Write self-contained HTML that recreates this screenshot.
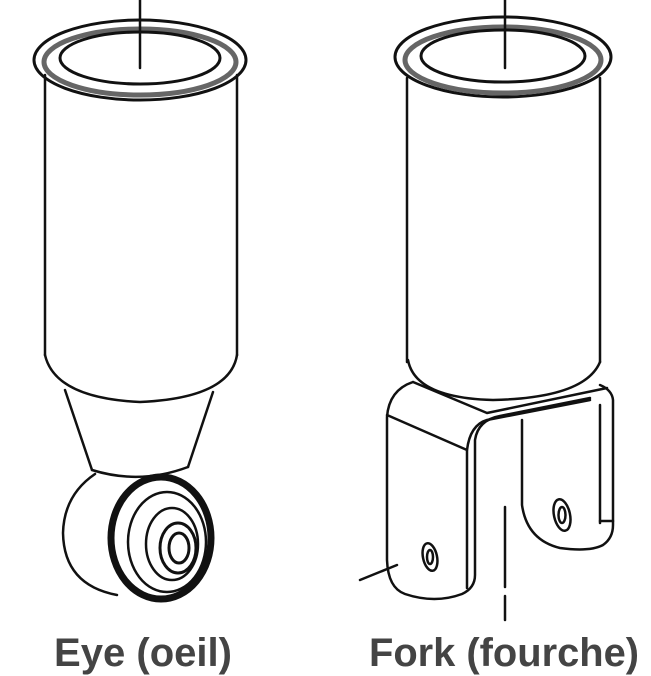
<!DOCTYPE html>
<html><head><meta charset="utf-8"><style>
html,body{margin:0;padding:0;background:#fff;}
svg{display:block;}
text{font-family:"Liberation Sans",Arial,sans-serif;font-weight:bold;fill:#444;}
</style></head><body>
<svg width="651" height="676" viewBox="0 0 651 676" xmlns="http://www.w3.org/2000/svg">
<g fill="none" stroke="#111" stroke-width="2.5" stroke-linejoin="round" stroke-linecap="round">
<!-- LEFT: Eye -->
<line x1="45" y1="75" x2="45" y2="355"/>
<line x1="237" y1="75" x2="237" y2="355"/>
<path d="M45 355 Q55 398 140 402 Q230 398 237 355"/>
<path d="M65 390 L92 470"/>
<path d="M213 392 L188 467"/>
<path d="M92 470 Q140 485 188 467"/>
<path d="M95 474 Q64 495 63 533 Q64 585 117 595"/>
<ellipse cx="161" cy="538" rx="50" ry="61" stroke-width="7"/>
<ellipse cx="167" cy="542" rx="39" ry="50" stroke-width="2.5"/>
<ellipse cx="172" cy="544" rx="26" ry="36"/>
<ellipse cx="178" cy="548" rx="18" ry="25" stroke-width="3"/>
<ellipse cx="179" cy="548" rx="10" ry="15" stroke-width="3"/>
<ellipse cx="140" cy="60" rx="106" ry="40" stroke-width="3"/>
<ellipse cx="140" cy="62" rx="96" ry="33" stroke="#666" stroke-width="5"/>
<ellipse cx="140" cy="58" rx="80" ry="26" stroke-width="3"/>
<line x1="140" y1="0" x2="140" y2="68"/>
<!-- RIGHT: Fork -->
<line x1="407" y1="78" x2="407" y2="362"/>
<line x1="600" y1="78" x2="600" y2="362"/>
<path d="M408 360 Q415 398 493 400 Q585 398 600 362"/>
<path d="M413 382 Q389 390 387 417 L387 560 Q388 588 405 594 Q435 604 462 594 Q475 588 475 575 L475 440 Q478 420 500 416 L590 398"/>
<path d="M387 415 L467 450 L467 588"/>
<path d="M413 382 L487 413 L607 388"/>
<path d="M467 450 Q470 425 487 420 L590 400"/>
<path d="M522 420 L522 505 Q527 540 560 548 Q590 552 603 545 Q613 538 613 525 L613 400 Q612 390 600 385"/>
<path d="M600 405 L600 523"/>
<line x1="600" y1="521" x2="613" y2="521"/>
<ellipse cx="430" cy="557" rx="7" ry="14" transform="rotate(-12 430 557)"/>
<ellipse cx="430" cy="557" rx="3" ry="7"/>
<ellipse cx="562" cy="515" rx="8" ry="16" transform="rotate(-12 562 515)"/>
<ellipse cx="562" cy="515" rx="3.5" ry="8"/>
<line x1="360" y1="580" x2="397" y2="565"/>
<line x1="505" y1="507" x2="505" y2="587"/>
<line x1="505" y1="596" x2="505" y2="620"/>
<ellipse cx="503" cy="57" rx="108" ry="40" stroke-width="3"/>
<ellipse cx="503" cy="60" rx="98" ry="33" stroke="#666" stroke-width="5"/>
<ellipse cx="503" cy="56" rx="82" ry="26" stroke-width="3"/>
<line x1="505" y1="0" x2="505" y2="68"/>
</g>
<text x="54" y="666" font-size="40" textLength="178" lengthAdjust="spacingAndGlyphs">Eye (oeil)</text>
<text x="369" y="666" font-size="40" textLength="270" lengthAdjust="spacingAndGlyphs">Fork (fourche)</text>
</svg>
</body></html>
